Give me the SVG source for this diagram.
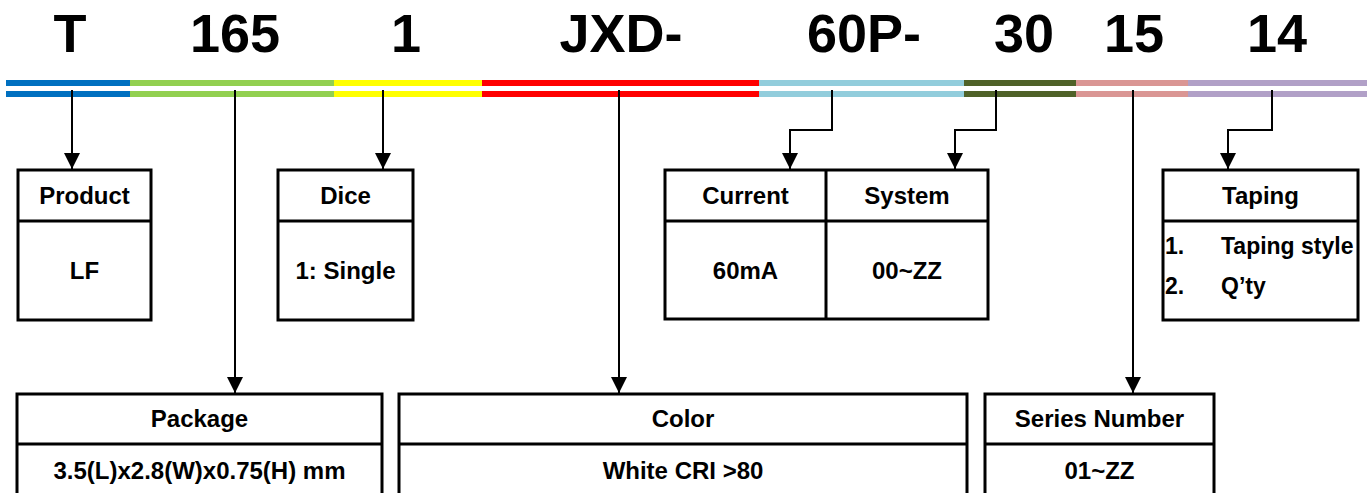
<svg xmlns="http://www.w3.org/2000/svg" width="1367" height="493" viewBox="0 0 1367 493">
<style>
.big{font-family:"Liberation Sans",Arial,sans-serif;font-weight:bold;font-size:54px;fill:#000;text-anchor:middle}
.t{font-family:"Liberation Sans",Arial,sans-serif;font-weight:bold;font-size:24px;fill:#000;text-anchor:middle}
.ts{font-family:"Liberation Sans",Arial,sans-serif;font-weight:bold;font-size:23px;fill:#000}
.box{fill:#fff;stroke:#000;stroke-width:3}
.div{stroke:#000;stroke-width:3;fill:none}
.con{stroke:#000;stroke-width:2;fill:none}
</style>
<defs>
<marker id="ah" markerUnits="userSpaceOnUse" markerWidth="16" markerHeight="16" viewBox="0 0 16 16" refX="16" refY="8" orient="auto">
<path d="M0,0 L16,8 L0,16 z" fill="#000"/>
</marker>
</defs>
<rect width="1367" height="493" fill="#fff"/>
<g id="code">
<text class="big" x="70" y="52">T</text>
<text class="big" x="235" y="52">165</text>
<text class="big" x="406" y="52">1</text>
<text class="big" x="621" y="52">JXD-</text>
<text class="big" x="864" y="52">60P-</text>
<text class="big" x="1024" y="52">30</text>
<text class="big" x="1134" y="52">15</text>
<text class="big" x="1277" y="52">14</text>
</g>
<g id="bars">
<rect x="6" y="80" width="124" height="6" fill="#0070C0"/><rect x="6" y="91" width="124" height="6" fill="#0070C0"/>
<rect x="130" y="80" width="204" height="6" fill="#92D050"/><rect x="130" y="91" width="204" height="6" fill="#92D050"/>
<rect x="334" y="80" width="148" height="6" fill="#FFFF00"/><rect x="334" y="91" width="148" height="6" fill="#FFFF00"/>
<rect x="482" y="80" width="277" height="6" fill="#FF0000"/><rect x="482" y="91" width="277" height="6" fill="#FF0000"/>
<rect x="759" y="80" width="205" height="6" fill="#92CDDC"/><rect x="759" y="91" width="205" height="6" fill="#92CDDC"/>
<rect x="964" y="80" width="112" height="6" fill="#4F6228"/><rect x="964" y="91" width="112" height="6" fill="#4F6228"/>
<rect x="1076" y="80" width="112" height="6" fill="#DA9694"/><rect x="1076" y="91" width="112" height="6" fill="#DA9694"/>
<rect x="1188" y="80" width="179" height="6" fill="#B1A0C7"/><rect x="1188" y="91" width="179" height="6" fill="#B1A0C7"/>
</g>
<g id="connectors">
<path class="con" d="M72,90 V169" marker-end="url(#ah)"/>
<path class="con" d="M235,90 V393" marker-end="url(#ah)"/>
<path class="con" d="M383,90 V169" marker-end="url(#ah)"/>
<path class="con" d="M619,90 V393" marker-end="url(#ah)"/>
<path class="con" d="M832,90 V130 H790 V169" marker-end="url(#ah)"/>
<path class="con" d="M996,90 V130 H955 V169" marker-end="url(#ah)"/>
<path class="con" d="M1133,90 V393" marker-end="url(#ah)"/>
<path class="con" d="M1272,90 V130 H1228 V169" marker-end="url(#ah)"/>
</g>
<g id="product">
<rect class="box" x="18" y="170" width="133" height="150"/>
<line class="div" x1="18" y1="221" x2="151" y2="221"/>
<text class="t" x="84.5" y="204">Product</text>
<text class="t" x="84.5" y="279">LF</text>
</g>
<g id="dice">
<rect class="box" x="278" y="170" width="135" height="150"/>
<line class="div" x1="278" y1="221" x2="413" y2="221"/>
<text class="t" x="345.5" y="204">Dice</text>
<text class="t" x="345.5" y="279">1: Single</text>
</g>
<g id="current-system">
<rect class="box" x="665" y="170" width="323" height="149"/>
<line class="div" x1="665" y1="221" x2="988" y2="221"/>
<line class="div" x1="826" y1="170" x2="826" y2="319"/>
<text class="t" x="745.5" y="204">Current</text>
<text class="t" x="745.5" y="279">60mA</text>
<text class="t" x="907" y="204">System</text>
<text class="t" x="907" y="279">00~ZZ</text>
</g>
<g id="taping">
<rect class="box" x="1163" y="170" width="195" height="150"/>
<line class="div" x1="1163" y1="221" x2="1358" y2="221"/>
<text class="t" x="1260.5" y="204">Taping</text>
<text class="ts" x="1165" y="254">1.</text>
<text class="ts" x="1221" y="254">Taping style</text>
<text class="ts" x="1165" y="294">2.</text>
<text class="ts" x="1221" y="294">Q’ty</text>
</g>
<g id="package">
<rect class="box" x="17" y="394" width="365" height="110"/>
<line class="div" x1="17" y1="444" x2="382" y2="444"/>
<text class="t" x="199.5" y="427">Package</text>
<text class="t" x="199.5" y="479">3.5(L)x2.8(W)x0.75(H) mm</text>
</g>
<g id="color">
<rect class="box" x="399" y="394" width="568" height="110"/>
<line class="div" x1="399" y1="444" x2="967" y2="444"/>
<text class="t" x="683" y="427">Color</text>
<text class="t" x="683" y="479">White CRI &gt;80</text>
</g>
<g id="series">
<rect class="box" x="985" y="394" width="229" height="110"/>
<line class="div" x1="985" y1="444" x2="1214" y2="444"/>
<text class="t" x="1099.5" y="427">Series Number</text>
<text class="t" x="1099.5" y="479">01~ZZ</text>
</g>
</svg>
